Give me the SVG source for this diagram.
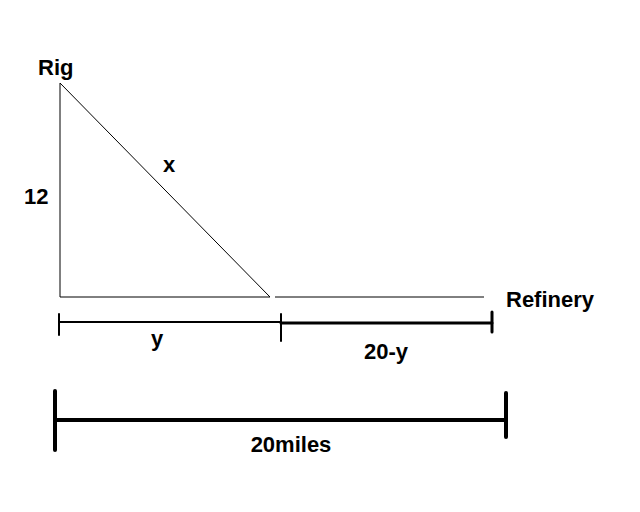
<svg xmlns="http://www.w3.org/2000/svg" width="640" height="512" viewBox="0 0 640 512">
<style>
text{font-family:"Liberation Sans",Arial,sans-serif;font-weight:bold;font-size:22px;fill:#000}
.thin{stroke:#000;stroke-width:1;fill:none}
</style>
<rect width="640" height="512" fill="#fff"/>
<g id="triangle">
<line class="thin" x1="60" y1="83" x2="60" y2="297"/>
<line class="thin" x1="60" y1="83" x2="270" y2="297"/>
<line class="thin" x1="60" y1="297" x2="270" y2="297"/>
</g>
<g id="road">
<line class="thin" x1="275" y1="297" x2="484" y2="297"/>
</g>
<g id="labels">
<text x="38" y="75">Rig</text>
<text x="24" y="204">12</text>
<text x="163" y="172">x</text>
<text x="506" y="307">Refinery</text>
<text x="157" y="346" text-anchor="middle">y</text>
<text x="386" y="359" text-anchor="middle">20-y</text>
<text x="291" y="452" text-anchor="middle">20miles</text>
</g>
<g id="scale" stroke="#000" stroke-linecap="round">
<line x1="59" y1="322" x2="281" y2="322" stroke-width="2"/>
<line x1="59" y1="314" x2="59" y2="335" stroke-width="2"/>
<line x1="281" y1="323" x2="492" y2="323" stroke-width="3"/>
<line x1="281" y1="314" x2="281" y2="341" stroke-width="2"/>
<line x1="492" y1="312" x2="492" y2="332" stroke-width="3"/>
<line x1="55" y1="420" x2="506" y2="420" stroke-width="4"/>
<line x1="55" y1="391" x2="55" y2="450" stroke-width="4"/>
<line x1="506" y1="393" x2="506" y2="437" stroke-width="4"/>
</g>
</svg>
